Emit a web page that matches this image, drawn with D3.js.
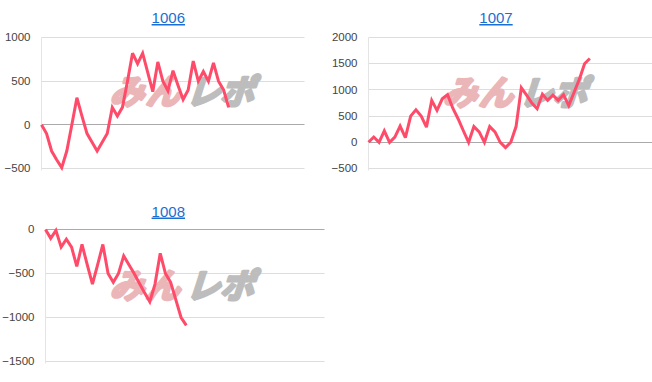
<!DOCTYPE html>
<html><head><meta charset="utf-8">
<script src="https://cdn.jsdelivr.net/npm/d3@7"></script>
<style>html,body{margin:0;padding:0;background:#fff;overflow:hidden}</style>
</head><body><svg id="c" width="652" height="382"></svg>
<script>
const titles = ["1006", "1007", "1008"];
const values1006 = [0,-100,-300,-400,-490,-300,0,310,100,-100,-200,-300,-200,-100,200,100,200,500,820,700,820,600,380,720,500,390,620,450,290,400,730,500,610,500,710,500,400,200];
const values1007 = [0,100,0,220,0,100,310,90,500,620,500,290,800,610,830,910,650,450,220,0,300,200,0,300,200,0,-100,0,300,1040,900,750,640,920,800,900,800,910,700,950,1200,1500,1600];
const values1008 = [0,-100,-10,-200,-110,-200,-420,-170,-400,-620,-400,-170,-500,-600,-500,-300,-400,-500,-610,-720,-820,-620,-270,-500,-600,-800,-1000,-1090];
const ticks1006 = [-500, 0, 500, 1000];
const ticks1007 = [-500, 0, 500, 1000, 1500, 2000];
const ticks1008 = [-1500, -1000, -500, 0];
const watermarkA = "みん";
const watermarkB = "レポ";

const charts = [
  {title: titles[0], values: values1006, ticks: ticks1006, left: 41.5, xEnd: 304.5, slots: 52, gridRight: 304.5, top: 37.5, bottom: 168.5, titleX: 168.3, titleY: 23, wmX: 185, wmY: 93},
  {title: titles[1], values: values1007, ticks: ticks1007, left: 368.5, xEnd: 647.8, slots: 53, gridRight: 660, top: 37.5, bottom: 168.5, titleX: 496, titleY: 23, wmX: 518, wmY: 94},
  {title: titles[2], values: values1008, ticks: ticks1008, left: 45.5, xEnd: 324.5, slots: 53.5, gridRight: 324.5, top: 229.5, bottom: 361.5, titleX: 168.3, titleY: 216.5, wmX: 185, wmY: 287}
];

const svg = d3.select("#c");
const FONT = "Arial, 'Liberation Sans', sans-serif";

charts.forEach(c => {
  const ext = d3.extent(c.ticks);
  const y = d3.scaleLinear().domain(ext).range([c.bottom, c.top]);
  const x = d3.scaleLinear().domain([0, c.slots]).range([c.left, c.xEnd]);
  const g = svg.append("g");

  // title
  g.append("text").attr("x", c.titleX).attr("y", c.titleY)
    .attr("text-anchor", "middle").attr("font-family", FONT).attr("font-size", 15)
    .attr("fill", "#1a6fd0").style("text-decoration", "underline").text(c.title);

  // gridlines
  g.selectAll("line.grid").data(c.ticks).enter().append("line")
    .attr("x1", c.left).attr("x2", c.gridRight)
    .attr("y1", d => Math.round(y(d) - 0.5) + 0.5).attr("y2", d => Math.round(y(d) - 0.5) + 0.5)
    .attr("stroke", d => d === 0 ? "#aaaaaa" : "#dddddd").attr("stroke-width", 1);

  // vertical axis line
  g.append("line").attr("x1", c.left).attr("x2", c.left)
    .attr("y1", c.top).attr("y2", c.bottom + 2).attr("stroke", "#e4e4e4");

  // labels
  const ax = g.append("g").attr("transform", `translate(${c.left},0)`)
    .call(d3.axisLeft(y).tickValues(c.ticks).tickSize(0).tickPadding(11).tickFormat(d3.format("d")));
  ax.select(".domain").remove();
  ax.selectAll("text").attr("font-family", FONT).attr("font-size", 11.5).attr("fill", "#444").attr("dy", "0.28em");

  // watermark
  const wm = g.append("g").attr("transform", `translate(${c.wmX},${c.wmY}) skewX(-18)`);
  wm.append("text").attr("x", -2).attr("y", 11).attr("text-anchor", "end")
    .attr("font-family", "'Noto Sans CJK JP'").attr("font-weight", "bold").attr("font-size", 34)
    .attr("fill", "#ebb6b8").attr("stroke", "#ebb6b8").attr("stroke-width", 3).attr("stroke-linejoin", "round")
    .attr("textLength", 70).text(watermarkA);
  wm.append("text").attr("x", 4).attr("y", 11).attr("text-anchor", "start")
    .attr("font-family", "'Noto Sans CJK JP'").attr("font-weight", "bold").attr("font-size", 34)
    .attr("fill", "#bdbdbd").attr("stroke", "#bdbdbd").attr("stroke-width", 3).attr("stroke-linejoin", "round")
    .attr("textLength", 68).text(watermarkB);

  // line
  const line = d3.line().x((d, i) => x(i)).y(d => y(d));
  g.append("path").datum(c.values).attr("d", line)
    .attr("fill", "none").attr("stroke", "#ff4b6a").attr("stroke-width", 3)
    .attr("stroke-linejoin", "miter").attr("stroke-miterlimit", 3);
});
</script>
</body></html>
